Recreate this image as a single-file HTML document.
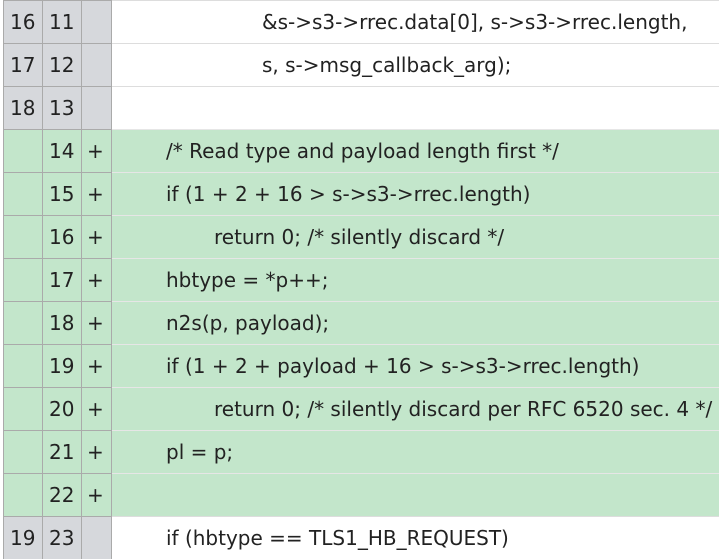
<!DOCTYPE html><html><head><style>
body{margin:0;width:719px;height:553px;overflow:hidden;background:#fff;font-family:"DejaVu Sans","Liberation Sans",sans-serif;font-size:20px;color:#222}
.r{position:absolute;left:0;width:719px;height:43px}
.c{position:absolute;top:0;height:43px;border-top:1px solid #aaa;line-height:42px;box-sizing:border-box;white-space:pre}
.a{left:3px;width:40px;border-left:1px solid #aaa;border-right:1px solid #aaa;padding-left:6px}
.b{left:43px;width:39px;border-right:1px solid #aaa;padding-left:6px}
.s{left:82px;width:30px;border-right:1px solid #aaa;padding-left:5px}
.t{left:112px;width:607px;border-top:1px solid #ddd}
.g .a,.g .b,.g .s{background:#d6d8dc}
.n .a,.n .b,.n .s,.n .t{background:#c3e6cb}
.n .t{border-top-color:#e6e6e6}
</style></head><body>
<div class="r g" style="top:0"><div class="c a">16</div><div class="c b">11</div><div class="c s"></div><div class="c t" style="padding-left:150px">&amp;s-&gt;s3-&gt;rrec.data[0], s-&gt;s3-&gt;rrec.length,</div></div>
<div class="r g" style="top:43px"><div class="c a">17</div><div class="c b">12</div><div class="c s"></div><div class="c t" style="padding-left:150px">s, s-&gt;msg_callback_arg);</div></div>
<div class="r g" style="top:86px"><div class="c a">18</div><div class="c b">13</div><div class="c s"></div><div class="c t"></div></div>
<div class="r n" style="top:129px"><div class="c a"></div><div class="c b">14</div><div class="c s">+</div><div class="c t" style="padding-left:54px">/* Read type and payload length first */</div></div>
<div class="r n" style="top:172px"><div class="c a"></div><div class="c b">15</div><div class="c s">+</div><div class="c t" style="padding-left:54px">if (1 + 2 + 16 &gt; s-&gt;s3-&gt;rrec.length)</div></div>
<div class="r n" style="top:215px"><div class="c a"></div><div class="c b">16</div><div class="c s">+</div><div class="c t" style="padding-left:102px">return 0; /* silently discard */</div></div>
<div class="r n" style="top:258px"><div class="c a"></div><div class="c b">17</div><div class="c s">+</div><div class="c t" style="padding-left:54px">hbtype = *p++;</div></div>
<div class="r n" style="top:301px"><div class="c a"></div><div class="c b">18</div><div class="c s">+</div><div class="c t" style="padding-left:54px">n2s(p, payload);</div></div>
<div class="r n" style="top:344px"><div class="c a"></div><div class="c b">19</div><div class="c s">+</div><div class="c t" style="padding-left:54px">if (1 + 2 + payload + 16 &gt; s-&gt;s3-&gt;rrec.length)</div></div>
<div class="r n" style="top:387px"><div class="c a"></div><div class="c b">20</div><div class="c s">+</div><div class="c t" style="padding-left:102px">return 0; /* silently discard per RFC 6520 sec. 4 */</div></div>
<div class="r n" style="top:430px"><div class="c a"></div><div class="c b">21</div><div class="c s">+</div><div class="c t" style="padding-left:54px">pl = p;</div></div>
<div class="r n" style="top:473px"><div class="c a"></div><div class="c b">22</div><div class="c s">+</div><div class="c t"></div></div>
<div class="r g" style="top:516px"><div class="c a">19</div><div class="c b">23</div><div class="c s"></div><div class="c t" style="padding-left:54px">if (hbtype == TLS1_HB_REQUEST)</div></div>
</body></html>
